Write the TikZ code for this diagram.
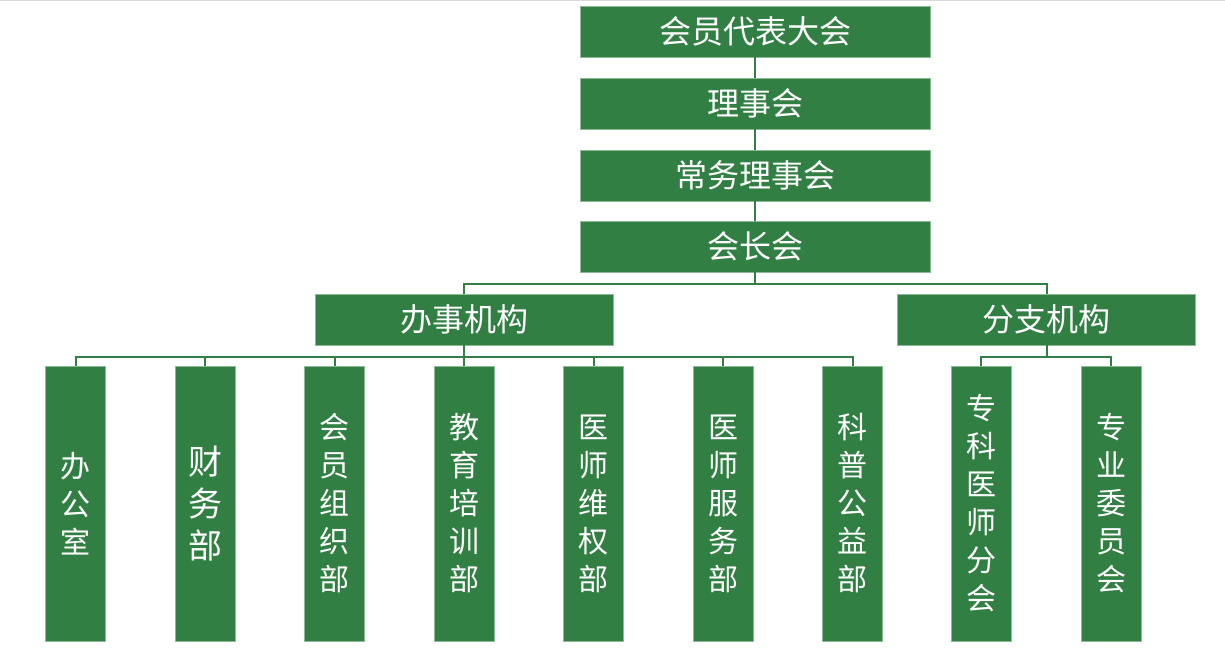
\documentclass[tikz,border=0pt]{standalone}
\usepackage{fontspec}
\newfontfamily\cjk{Noto Sans CJK SC}
\definecolor{orgbox}{HTML}{317F43}
\definecolor{orgedge}{HTML}{8DBB97}

\begin{document}
\begin{tikzpicture}[x=1pt,y=-1pt,
    box/.style={fill=orgbox, draw=orgedge, line width=0.8pt, text=white, inner sep=0pt,
                font=\cjk\fontsize{30}{38}\selectfont},
    wide/.style={box, minimum width=350pt, minimum height=51pt, font=\cjk\fontsize{32}{38}\selectfont},
    mid/.style={box, minimum width=298pt, minimum height=51pt, font=\cjk\fontsize{32}{38}\selectfont},
    tall/.style={box, minimum width=60pt, minimum height=275pt, align=center},
    link/.style={draw=orgbox, line width=2pt}]
    \useasboundingbox (0,0) rectangle (1225,668);
    \draw[gray!30, line width=1pt] (0,0.5) -- (1225,0.5);

    % Top chain
    \node[wide] (dahui) at (755,31.5) {会员代表大会};
    \node[wide] (lishi) at (755,103.5) {理事会};
    \node[wide] (changwu) at (755,175.5) {常务理事会};
    \node[wide] (huizhang) at (755,246.5) {会长会};
    \draw[link] (dahui) -- (lishi);
    \draw[link] (lishi) -- (changwu);
    \draw[link] (changwu) -- (huizhang);

    % Second level
    \node[mid] (banshi) at (464,319.5) {办事机构};
    \node[mid] (fenzhi) at (1046.5,319.5) {分支机构};
    \foreach \n in {banshi,fenzhi}
        \draw[link] (huizhang.south) -- ++(0,12) -| (\n.north);

    % Departments
    \node[tall] (d1) at (75.5,503.5) {办\\公\\室};
    \node[tall, font=\cjk\fontsize{34}{42}\selectfont] (d2) at (205,503.5) {财\\务\\部};
    \node[tall] (d3) at (334.5,503.5) {会\\员\\组\\织\\部};
    \node[tall] (d4) at (464,503.5) {教\\育\\培\\训\\部};
    \node[tall] (d5) at (593.5,503.5) {医\\师\\维\\权\\部};
    \node[tall] (d6) at (723,503.5) {医\\师\\服\\务\\部};
    \node[tall] (d7) at (852.5,503.5) {科\\普\\公\\益\\部};
    \foreach \n in {d1,d2,d3,d4,d5,d6,d7}
        \draw[link] (banshi.south) -- ++(0,12) -| (\n.north);

    % Branches
    \node[tall] (f1) at (981,503.5) {专\\科\\医\\师\\分\\会};
    \node[tall] (f2) at (1111,503.5) {专\\业\\委\\员\\会};
    \foreach \n in {f1,f2}
        \draw[link] (fenzhi.south) -- ++(0,12) -| (\n.north);
\end{tikzpicture}
\end{document}
